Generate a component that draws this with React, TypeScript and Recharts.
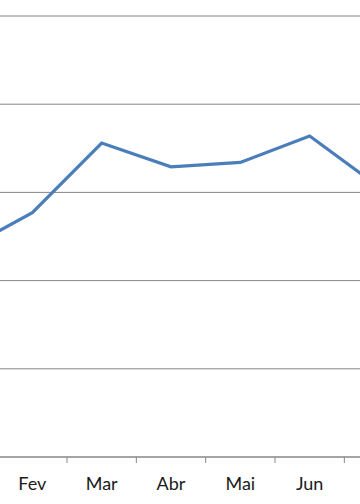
import React from "react";
import { LineChart, Line, XAxis, YAxis, CartesianGrid } from "recharts";

const months = ["Jan", "Fev", "Mar", "Abr", "Mai", "Jun", "Jul"];
const values = [23.4, 27.7, 35.6, 32.9, 33.4, 36.4, 30.6];
const yTicks = [0, 10, 20, 30, 40, 50];

const data = months.map((m, i) => ({ month: m, value: values[i] }));

const CHART_W = 416;
const STEP = CHART_W / (months.length - 1);
const GRID = "#868686";

const Tick = (props: any) => {
  const { x, y, payload, index } = props;
  return (
    <g>
      {index < months.length - 1 && (
        <line x1={x + STEP / 2} x2={x + STEP / 2} y1={y} y2={y + 6} stroke={GRID} strokeWidth={1} />
      )}
      <text
        x={x}
        y={y + 33}
        textAnchor="middle"
        fontFamily="Lato, 'Open Sans', sans-serif"
        fontSize={18}
        fill="#1a1a1a"
      >
        {payload.value}
      </text>
    </g>
  );
};

export default function App() {
  return (
    <div
      style={{
        position: "fixed",
        left: 0,
        top: 0,
        width: 360,
        height: 504,
        overflow: "hidden",
        background: "#fff",
      }}
    >
      <div style={{ position: "absolute", left: -37, top: 0 }}>
        <LineChart
          width={CHART_W}
          height={504}
          data={data}
          margin={{ top: 16, right: 0, bottom: 17, left: 0 }}
        >
          <CartesianGrid vertical={false} stroke={GRID} strokeWidth={1} />
          <YAxis hide domain={[0, 50]} ticks={yTicks} />
          <XAxis
            dataKey="month"
            height={30}
            stroke={GRID}
            tickLine={false}
            tickSize={0}
            tickMargin={0}
            tick={<Tick />}
            interval={0}
          />
          <Line
            type="linear"
            dataKey="value"
            stroke="#4a7ebb"
            strokeWidth={3.2}
            dot={false}
            isAnimationActive={false}
          />
        </LineChart>
      </div>
    </div>
  );
}
